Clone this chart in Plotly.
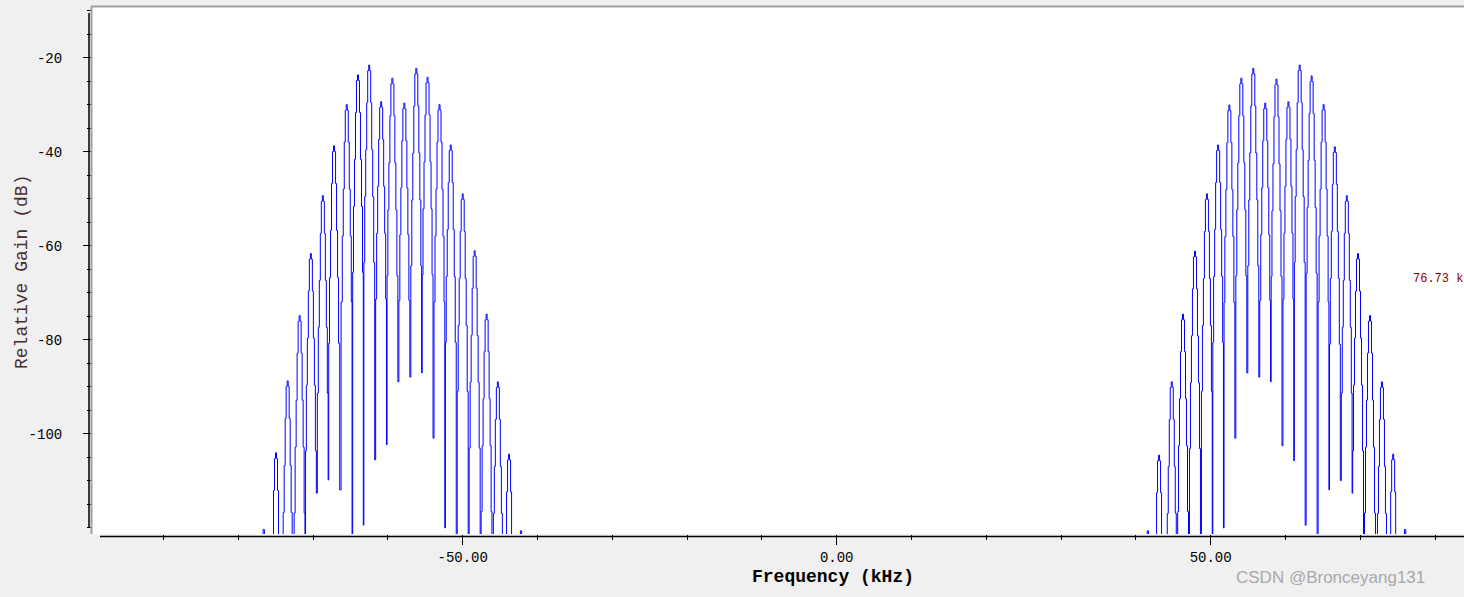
import plotly.graph_objects as go

# ---------------- data ----------------
left_peak_freq_khz = [-74.96, -73.4, -71.8, -70.3, -68.7, -67.2, -65.5, -64.0, -62.5, -60.9, -59.4,
                      -57.8, -56.2, -54.7, -53.1, -51.6, -50.0, -48.4, -46.8, -45.3, -43.8]
left_peak_db = [-104.0, -88.7, -74.8, -61.6, -49.3, -38.7, -29.9, -23.6, -21.5, -29.3, -24.3,
                -29.6, -22.2, -24.1, -29.9, -38.5, -48.9, -61.0, -74.5, -88.9, -104.3]
left_trough_db = [-135.0, -135.0, -135.0, -112.6, -109.8, -111.9, -135.0, -119.4, -105.5, -102.3,
                  -88.9, -87.9, -87.0, -100.9, -120.0, -135.0, -135.0, -135.0, -135.0, -135.0]

right_peak_freq_khz = [43.1, 44.8, 46.3, 47.9, 49.5, 51.0, 52.5, 54.1, 55.7, 57.3, 58.8,
                       60.4, 61.9, 63.5, 65.1, 66.6, 68.2, 69.7, 71.3, 72.9, 74.4]
right_peak_db = [-104.5, -88.9, -74.5, -61.1, -48.9, -38.5, -30.0, -24.3, -22.2, -29.6, -24.5,
                 -29.3, -21.5, -23.8, -29.9, -38.9, -49.3, -61.6, -74.8, -88.9, -104.3]
right_trough_db = [-135.0, -135.0, -135.0, -135.0, -135.0, -120.0, -100.9, -87.0, -87.9, -88.9,
                   -102.5, -105.7, -119.4, -135.0, -111.9, -109.9, -112.6, -135.0, -135.0, -135.0]

floor_blip_freq_khz = [-76.6, -42.2, 41.6, 76.0]
floor_blip_db = [-120.3, -120.6, -120.6, -120.3]

# dB drop of the FFT bins 0..5 bins away from each spike peak
spike_profile_drop_db = [0.0, 1.2, 8.0, 18.0, 28.0, 42.0]
bin_width_khz = 0.134
noise_floor_db = -135.0
freq_span_khz = [-99.56, 83.87]
gain_span_db = [-121.28, -9.15]

x_tick_vals = [-50, 0, 50]
x_tick_text = ["-50.00", "0.00", "50.00"]
y_tick_vals = [-100, -80, -60, -40, -20]
y_tick_text = ["-100", "-80", "-60", "-40", "-20"]

# ---------------- build the spectrum polyline ----------------
def lobe(peaks_f, peaks_db, troughs_db):
    xs, ys = [], []
    n = len(peaks_f)
    left_tr = [noise_floor_db] + troughs_db
    right_tr = troughs_db + [noise_floor_db]
    for i in range(n):
        f, p = peaks_f[i], peaks_db[i]
        for k in range(-5, 6):
            tr = left_tr[i] if k < 0 else right_tr[i]
            xs.append(f + k * bin_width_khz)
            ys.append(max(p - spike_profile_drop_db[abs(k)], tr))
        if i < n - 1:
            xs.append((f + peaks_f[i + 1]) / 2)
            ys.append(troughs_db[i])
    return xs, ys


def blip(f, level):
    return ([f - 0.1, f - 0.07, f + 0.07, f + 0.1],
            [noise_floor_db, level, level, noise_floor_db])


X, Y = [freq_span_khz[0]], [noise_floor_db]
parts = [
    blip(floor_blip_freq_khz[0], floor_blip_db[0]),
    lobe(left_peak_freq_khz, left_peak_db, left_trough_db),
    blip(floor_blip_freq_khz[1], floor_blip_db[1]),
    blip(floor_blip_freq_khz[2], floor_blip_db[2]),
    lobe(right_peak_freq_khz, right_peak_db, right_trough_db),
    blip(floor_blip_freq_khz[3], floor_blip_db[3]),
]
for xs, ys in parts:
    X += xs
    Y += ys
X.append(freq_span_khz[1])
Y.append(noise_floor_db)

fig = go.Figure()
fig.add_trace(go.Scatter(x=X, y=Y, mode="lines",
                         line=dict(color="#0000ff", width=1, shape="hvh"),
                         hoverinfo="skip"))

# ---------------- layout ----------------
W, H = 1464, 597
L, R, T, B = 92, 0, 7, 63
PW, PH = W - L - R, H - T - B


def px_x(px):
    return (px - L) / PW


def px_y(py):
    return (H - B - py) / PH


mono = "Liberation Mono"
fig.update_layout(
    width=W, height=H,
    margin=dict(l=L, r=R, t=T, b=B, pad=0),
    paper_bgcolor="#f0f0f0", plot_bgcolor="#ffffff",
    showlegend=False,
)
fig.update_xaxes(
    range=freq_span_khz, tickmode="array", tickvals=x_tick_vals, ticktext=x_tick_text,
    ticks="outside", ticklen=10, tickwidth=1, tickcolor="black",
    minor=dict(dtick=10, tick0=0, ticks="outside", ticklen=5, tickwidth=1, tickcolor="black"),
    showgrid=False, zeroline=False, showline=False,
    tickfont=dict(family=mono, size=14, color="black"), ticklabelstandoff=0,
)
fig.update_yaxes(
    range=gain_span_db, tickmode="array", tickvals=y_tick_vals, ticktext=y_tick_text,
    ticks="outside", ticklen=8, tickwidth=1, tickcolor="black",
    minor=dict(dtick=5, tick0=0, ticks="outside", ticklen=4, tickwidth=1, tickcolor="black"),
    showgrid=False, zeroline=False, showline=False,
    tickfont=dict(family=mono, size=14, color="black"), ticklabelstandoff=18,
)

shapes = [
    # white canvas frame (left and top)
    dict(type="line", xref="paper", yref="paper", x0=px_x(91.5), x1=px_x(91.5),
         y0=px_y(534), y1=px_y(6), line=dict(color="#a0a0a0", width=2)),
    dict(type="line", xref="paper", yref="paper", x0=px_x(91), x1=1.0,
         y0=px_y(6.5), y1=px_y(6.5), line=dict(color="#a0a0a0", width=2)),
    # axis lines
    dict(type="line", xref="paper", yref="paper", x0=px_x(100), x1=1.0,
         y0=px_y(536.5), y1=px_y(536.5), line=dict(color="black", width=1.5)),
    dict(type="line", xref="paper", yref="paper", x0=px_x(89), x1=px_x(89),
         y0=px_y(528), y1=px_y(13), line=dict(color="black", width=1.5)),
]
fig.update_layout(shapes=shapes)

annotations = [
    dict(text="<b>Frequency (kHz)</b>", xref="paper", yref="paper",
         x=px_x(833), y=px_y(577), xanchor="center", yanchor="middle", showarrow=False,
         font=dict(family=mono, size=18, color="black")),
    dict(text="Relative Gain (dB)", xref="paper", yref="paper",
         x=px_x(22), y=px_y(272), xanchor="center", yanchor="middle", showarrow=False,
         textangle=-90, font=dict(family=mono, size=18, color="#4a2c2c")),
    dict(text="76.73 k", xref="paper", yref="paper",
         x=px_x(1411), y=px_y(279), xanchor="left", yanchor="middle", showarrow=False,
         font=dict(family=mono, size=12, color="#8b0000")),
    dict(text="CSDN @Bronceyang131", xref="paper", yref="paper",
         x=px_x(1330), y=px_y(577), xanchor="center", yanchor="middle", showarrow=False,
         font=dict(family="Liberation Sans", size=17, color="#a8a8a8")),
]
fig.update_layout(annotations=annotations)

fig.write_html("out.html", config={"displayModeBar": False},
               post_script="document.body.style.margin='0';document.body.style.overflow='hidden';")
